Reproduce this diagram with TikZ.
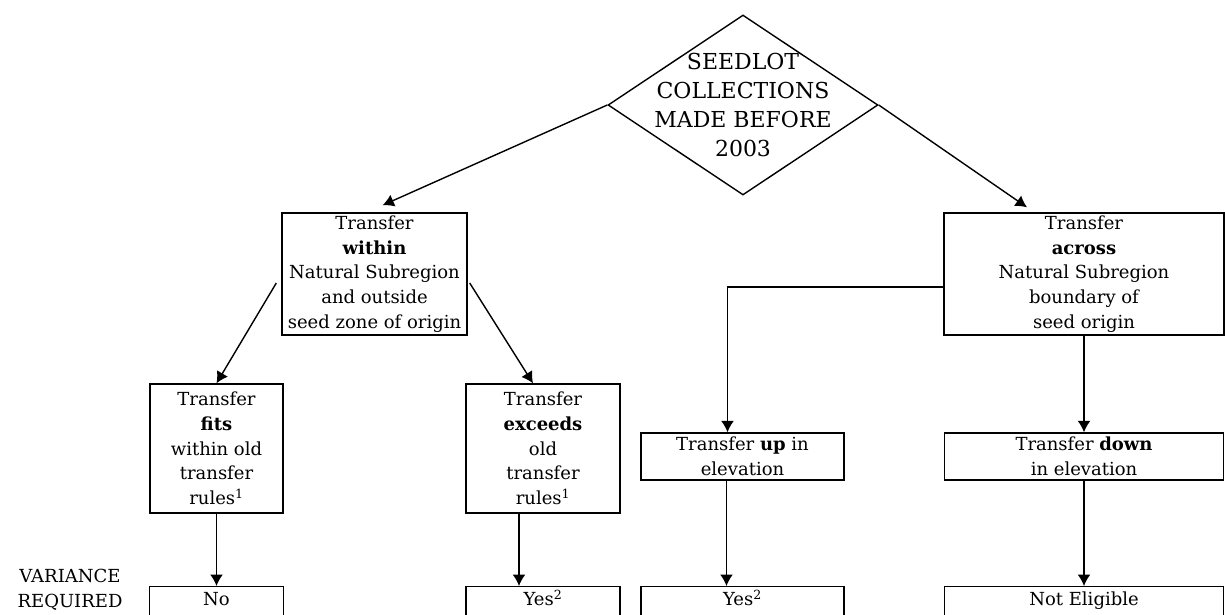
\documentclass[tikz,border=0pt]{standalone}
\usepackage{fontspec}
\setmainfont{DejaVu Serif}
\usetikzlibrary{positioning, shapes.geometric, arrows.meta, calc}

\newcommand{\boxfont}{\fontsize{18}{24.7}\selectfont}
\newcommand{\decfont}{\fontsize{22}{29}\selectfont}

\begin{document}
\begin{tikzpicture}[
      x=1pt, y=-1pt, line width=1.4pt,
      box/.style={draw, align=center, inner sep=0pt, font=\boxfont},
      leaf/.style={draw, align=center, anchor=north, inner xsep=0pt, inner ysep=6pt,
                   text height=13pt, text depth=10pt, font=\boxfont},
      dec/.style={diamond, draw, minimum width=270pt, minimum height=180pt, inner sep=0pt},
      arr/.style={-{Latex[width=4.5mm, length=4mm]}}]

      \useasboundingbox (0,0) rectangle (1225,614);
      \clip (0,0) rectangle (1225,614);

      \node[dec, label={[align=center, font=\decfont]center:SEEDLOT\\COLLECTIONS\\MADE BEFORE\\2003}] (seed) at (743,105) {};

      \node[box, minimum width=185pt, minimum height=122pt] (within) at (374.5,274) {Transfer\\\textbf{within}\\Natural Subregion\\and outside\\seed zone of origin};
      \node[box, minimum width=280pt, minimum height=122pt] (across) at (1084,274) {Transfer\\\textbf{across}\\Natural Subregion\\boundary of\\seed origin};

      \node[box, minimum width=133pt, minimum height=129pt] (fits) at (216.5,448.5) {Transfer\\\textbf{fits}\\within old\\transfer\\rules\textsuperscript{1}};
      \node[box, minimum width=154pt, minimum height=129pt] (exceeds) at (543,448.5) {Transfer\\\textbf{exceeds}\\old\\transfer\\rules\textsuperscript{1}};
      \node[box, minimum width=203pt, minimum height=47pt] (up) at (742.5,456.5) {Transfer \textbf{up} in\\elevation};
      \node[box, minimum width=279pt, minimum height=47pt] (down) at (1084,456.5) {Transfer \textbf{down}\\in elevation};

      % outcome row
      \node[leaf, minimum width=134pt] (no) at (216.5,586) {No};
      \node[leaf, minimum width=154pt] (yesa) at (543,586) {Yes\textsuperscript{2}};
      \node[leaf, minimum width=203pt] (yesb) at (742.5,586) {Yes\textsuperscript{2}};
      \node[leaf, minimum width=279pt] (noteligible) at (1084,586) {Not Eligible};

      \node[align=center, font=\boxfont, inner sep=0pt] (variance) at (70,589.5) {VARIANCE\\REQUIRED};

      \draw[arr] (seed.west) -- ($(within.north)+(8,-7)$);
      \draw[arr] (seed.east) -- ($(across.north)+(-57,-5)$);

      \draw[arr] ($(within.west)+(-5,9)$) -- (fits.north);
      \draw[arr] ($(within.east)+(2,9)$) -- ($(exceeds.north)+(-10,0)$);
      \draw[arr] ($(across.west)+(0,13)$) -| ($(up.north)+(-15,0)$);
      \draw[arr] (across.south) -- (down.north);

      \draw[arr] (fits.south) -- (no.north);
      \draw[arr] ($(exceeds.south)+(-24,0)$) -- ($(yesa.north)+(-24,0)$);
      \draw[arr] ($(up.south)+(-16,0)$) -- ($(yesb.north)+(-16,0)$);
      \draw[arr] (down.south) -- (noteligible.north);
\end{tikzpicture}
\end{document}
